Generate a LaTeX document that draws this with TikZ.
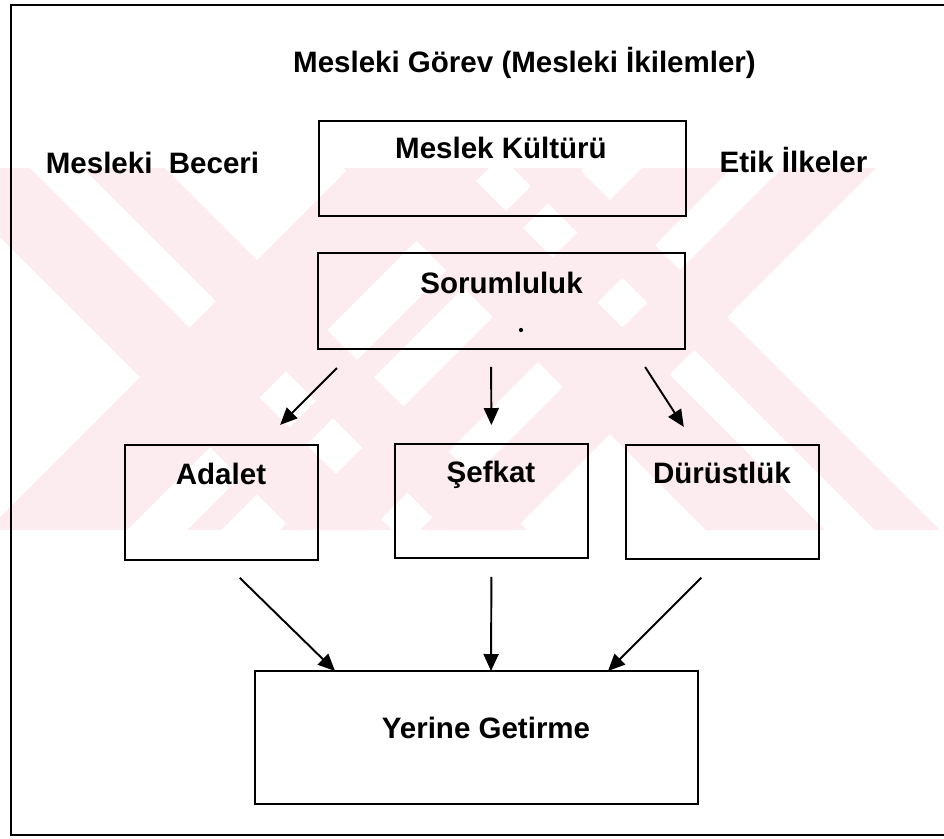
\documentclass[tikz,border=0pt]{standalone}
\usepackage{fontspec}
\setmainfont{Liberation Sans}
\usetikzlibrary{arrows.meta,positioning}

\definecolor{wmpink}{RGB}{253,236,239}

\tikzset{
  box/.style={draw, line width=0.8pt, inner sep=0pt, outer sep=0pt},
  lbl/.style={anchor=base, inner sep=0pt, font=\fontsize{16.8}{20}\selectfont\bfseries},
  arr/.style={line width=1.1pt, -{Triangle[length=0.34cm,width=0.3cm]}},
}

\begin{document}
\begin{tikzpicture}[x=0.02cm,y=-0.02cm]
% Parameters
\def\bandTop{168}
\def\bandBot{530}

\useasboundingbox (0,0) rectangle (944,839);

% Watermark
\begin{scope}
\clip (0,\bandTop) rectangle (944,\bandBot);
\foreach \a/\b in {3/85,138/237,-410/-345,-295/-176} % falling stripes
  \fill[wmpink] ({\bandTop-(\a)},\bandTop) -- ({\bandTop-(\b)},\bandTop) -- ({\bandBot-(\b)},\bandBot) -- ({\bandBot-(\a)},\bandBot) -- cycle;
\foreach \a/\b in {517/657,717/751,810/900,950/1044} % rising stripes
  \fill[wmpink] ({\a-\bandTop},\bandTop) -- ({\b-\bandTop},\bandTop) -- ({\b-\bandBot},\bandBot) -- ({\a-\bandBot},\bandBot) -- cycle;
\end{scope}

% Frame
\draw[line width=0.8pt] (944,5) -- (11,5) -- (11,835) -- (944,835);

% Headings
\node[lbl] (title) at (524.5,72) {Mesleki Görev (Mesleki İkilemler)};
\node[lbl] (beceri) at (152.5,173) {Mesleki\ \ Beceri};
\node[lbl] (etik) at (793.5,172) {Etik İlkeler};

% Boxes
\node[box, minimum width=7.34cm, minimum height=1.9cm] (kultur) at (502.5,168.5) {};
\node[box, minimum width=7.34cm, minimum height=1.92cm] (sor) at (501.5,301) {};
\node[box, minimum width=3.86cm, minimum height=2.3cm] (adalet) at (221.5,502.5) {};
\node[box, minimum width=3.86cm, minimum height=2.28cm] (sefkat) at (491.5,501) {};
\node[box, minimum width=3.86cm, minimum height=2.28cm] (durust) at (722.5,502) {};
\node[box, minimum width=8.86cm, minimum height=2.66cm] (yerine) at (476.5,737.5) {};

% Box texts
\node[lbl] (tKultur) at (501,158) {Meslek Kültürü};
\node[lbl] (tSor) at (501.5,293) {Sorumluluk};
\node[lbl] (tAdalet) at (221,484) {Adalet};
\node[lbl] (tSefkat) at (491,482) {Şefkat};
\node[lbl] (tDurust) at (722,483) {Dürüstlük};
\node[lbl] (tYerine) at (486,738) {Yerine Getirme};
\fill (521,330) circle (1.2pt);

% Arrows
\draw[arr, shorten <=0.54cm, shorten >=0.57cm] ([xshift=0.76cm]sor.south west) -- ([xshift=0.77cm]adalet.north);
\draw[arr, shorten <=0.36cm, shorten >=0.38cm] ([xshift=-0.21cm]sor.south) -- (sefkat.north);
\draw[arr, shorten <=0.43cm, shorten >=0.43cm] ([xshift=-1.03cm]sor.south east) -- ([xshift=-0.54cm]durust.north);
\draw[arr, shorten <=0.51cm] (adalet.south) -- ([xshift=1.6cm]yerine.north west);
\draw[arr, shorten <=0.38cm] (sefkat.south) -- ([xshift=0.29cm]yerine.north);
\draw[arr, shorten <=0.53cm] ([xshift=-0.05cm]durust.south) -- ([xshift=-1.8cm]yerine.north east);

\end{tikzpicture}
\end{document}
